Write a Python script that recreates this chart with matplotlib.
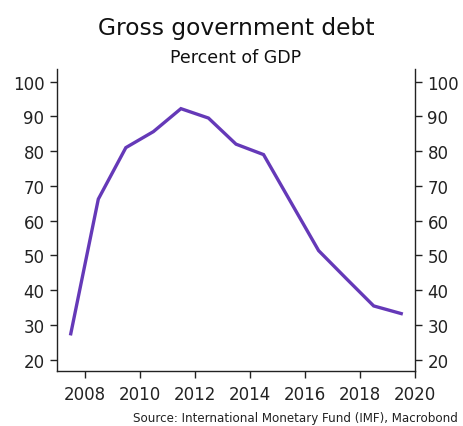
import matplotlib.pyplot as plt

# gross government debt, percent of GDP (mid-year points)
years = [2007.5, 2008.5, 2009.5, 2010.5, 2011.5, 2012.5, 2013.5,
         2014.5, 2015.5, 2016.5, 2017.5, 2018.5, 2019.5]
debt = [27.5, 66.2, 81.0, 85.6, 92.2, 89.5, 82.0,
        79.0, 65.2, 51.4, 43.4, 35.5, 33.3]
xticks = [2008, 2010, 2012, 2014, 2016, 2018, 2020]
yticks = [20, 30, 40, 50, 60, 70, 80, 90, 100]

plt.rcParams['font.family'] = ['DejaVu Sans']
col = '#6539B8'

fig = plt.figure(figsize=(4.64, 4.27), dpi=100)
ax = fig.add_axes([57/464, 1 - 372/427, (415 - 57)/464, (372 - 70)/427])

ax.plot(years, debt, color=col, lw=2.4, solid_joinstyle='miter')

ax.set_xlim(2007, 2020)
ax.set_ylim(16.8, 103.6)
ax.set_xticks(xticks)
ax.set_yticks(yticks)
ax.tick_params(axis='both', direction='out', length=5, width=1, labelsize=12,
               colors='#222222', labelcolor='#222222')
ax.tick_params(axis='y', right=True, labelright=True, pad=4)
ax.tick_params(axis='x', pad=5)

ax.spines['top'].set_visible(False)
for s in ['left', 'right', 'bottom']:
    ax.spines[s].set_color('#222222')
    ax.spines[s].set_linewidth(1)

fig.text(236/464, 1 - 35/427, 'Gross government debt', ha='center', va='baseline',
         fontsize=16.8, color='#111111')
fig.text(236/464, 1 - 63/427, 'Percent of GDP', ha='center', va='baseline',
         fontsize=12.5, color='#111111')
fig.text(458/464, 1 - 422/427, 'Source: International Monetary Fund (IMF), Macrobond',
         ha='right', va='baseline', fontsize=8.6, color='#222222')

fig.savefig('out.png', dpi=100)
